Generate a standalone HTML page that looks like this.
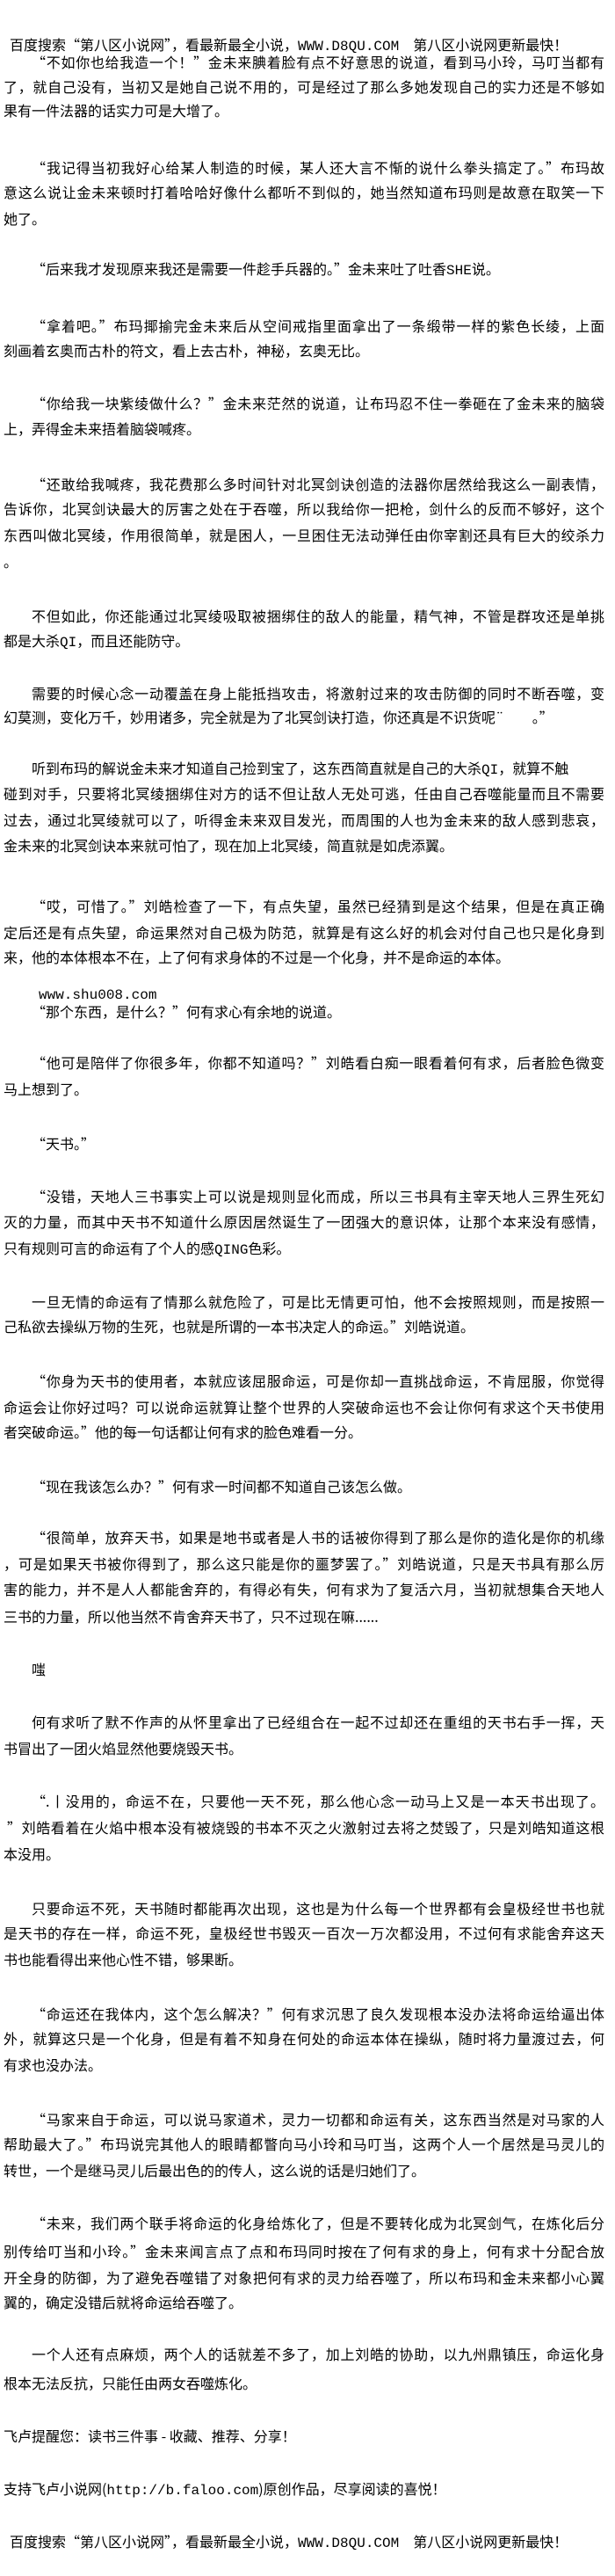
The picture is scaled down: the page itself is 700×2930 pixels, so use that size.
<!DOCTYPE html>
<html><head><meta charset="utf-8">
<style>
html,body{margin:0;padding:0;background:#fff;}
body{width:700px;height:2930px;position:relative;overflow:hidden;
font-family:"Noto Sans CJK SC","WenQuanYi Zen Hei",sans-serif;font-size:16px;color:#000;}
.l{position:absolute;line-height:22px;height:22px;white-space:nowrap;left:4px;}
.i{left:36px;}
.f{right:12px;text-align:justify;text-align-last:justify;white-space:normal;overflow:hidden;}
.m{font-family:"Liberation Mono",monospace;}
</style></head><body>
<div class="l" style="top:39px;left:11px">百度搜索“第八区小说网”，看最新最全小说，<span class="m">WWW.D8QU.COM</span>　第八区小说网更新最快！</div>

<div class="l i f" style="top:59px">“不如你也给我造一个！”金未来腆着脸有点不好意思的说道，看到马小玲，马叮当都有</div>
<div class="l f" style="top:87px">了，就自己没有，当初又是她自己说不用的，可是经过了那么多她发现自己的实力还是不够如</div>
<div class="l" style="top:114px">果有一件法器的话实力可是大增了。</div>

<div class="l i f" style="top:179px">“我记得当初我好心给某人制造的时候，某人还大言不惭的说什么拳头搞定了。”布玛故</div>
<div class="l f" style="top:207px">意这么说让金未来顿时打着哈哈好像什么都听不到似的，她当然知道布玛则是故意在取笑一下</div>
<div class="l" style="top:237px">她了。</div>

<div class="l i" style="top:294px">“后来我才发现原来我还是需要一件趁手兵器的。”金未来吐了吐香<span class="m">SHE</span>说。</div>

<div class="l i f" style="top:359px">“拿着吧。”布玛揶揄完金未来后从空间戒指里面拿出了一条缎带一样的紫色长绫，上面</div>
<div class="l" style="top:387px">刻画着玄奥而古朴的符文，看上去古朴，神秘，玄奥无比。</div>

<div class="l i f" style="top:447px">“你给我一块紫绫做什么？”金未来茫然的说道，让布玛忍不住一拳砸在了金未来的脑袋</div>
<div class="l" style="top:476px">上，弄得金未来捂着脑袋喊疼。</div>

<div class="l i f" style="top:539px">“还敢给我喊疼，我花费那么多时间针对北冥剑诀创造的法器你居然给我这么一副表情，</div>
<div class="l f" style="top:567px">告诉你，北冥剑诀最大的厉害之处在于吞噬，所以我给你一把枪，剑什么的反而不够好，这个</div>
<div class="l f" style="top:597px">东西叫做北冥绫，作用很简单，就是困人，一旦困住无法动弹任由你宰割还具有巨大的绞杀力</div>
<div class="l" style="top:627px">。</div>

<div class="l i f" style="top:689px">不但如此，你还能通过北冥绫吸取被捆绑住的敌人的能量，精气神，不管是群攻还是单挑</div>
<div class="l" style="top:717px">都是大杀<span class="m">QI</span>，而且还能防守。</div>

<div class="l i f" style="top:777px">需要的时候心念一动覆盖在身上能抵挡攻击，将激射过来的攻击防御的同时不断吞噬，变</div>
<div class="l" style="top:804px">幻莫测，变化万千，妙用诸多，完全就是为了北冥剑诀打造，你还真是不识货呢¨　　。”</div>

<div class="l i" style="top:862px">听到布玛的解说金未来才知道自己捡到宝了，这东西简直就是自己的大杀<span class="m">QI</span>，就算不触</div>
<div class="l f" style="top:891px">碰到对手，只要将北冥绫捆绑住对方的话不但让敌人无处可逃，任由自己吞噬能量而且不需要</div>
<div class="l f" style="top:921px">过去，通过北冥绫就可以了，听得金未来双目发光，而周围的人也为金未来的敌人感到悲哀，</div>
<div class="l" style="top:950px">金未来的北冥剑诀本来就可怕了，现在加上北冥绫，简直就是如虎添翼。</div>

<div class="l i f" style="top:1019px">“哎，可惜了。”刘皓检查了一下，有点失望，虽然已经猜到是这个结果，但是在真正确</div>
<div class="l f" style="top:1049px">定后还是有点失望，命运果然对自己极为防范，就算是有这么好的机会对付自己也只是化身到</div>
<div class="l" style="top:1077px">来，他的本体根本不在，上了何有求身体的不过是一个化身，并不是命运的本体。</div>

<div class="l m" style="top:1121px;left:44px">www.shu008.com</div>
<div class="l i" style="top:1139px">“那个东西，是什么？”何有求心有余地的说道。</div>

<div class="l i f" style="top:1197px">“他可是陪伴了你很多年，你都不知道吗？”刘皓看白痴一眼看着何有求，后者脸色微变</div>
<div class="l" style="top:1227px">马上想到了。</div>

<div class="l i" style="top:1289px">“天书。”</div>

<div class="l i f" style="top:1349px">“没错，天地人三书事实上可以说是规则显化而成，所以三书具有主宰天地人三界生死幻</div>
<div class="l f" style="top:1378px">灭的力量，而其中天书不知道什么原因居然诞生了一团强大的意识体，让那个本来没有感情，</div>
<div class="l" style="top:1408px">只有规则可言的命运有了个人的感<span class="m">QING</span>色彩。</div>

<div class="l i f" style="top:1469px">一旦无情的命运有了情那么就危险了，可是比无情更可怕，他不会按照规则，而是按照一</div>
<div class="l" style="top:1497px">己私欲去操纵万物的生死，也就是所谓的一本书决定人的命运。”刘皓说道。</div>

<div class="l i f" style="top:1559px">“你身为天书的使用者，本就应该屈服命运，可是你却一直挑战命运，不肯屈服，你觉得</div>
<div class="l f" style="top:1589px">命运会让你好过吗？可以说命运就算让整个世界的人突破命运也不会让你何有求这个天书使用</div>
<div class="l" style="top:1617px">者突破命运。”他的每一句话都让何有求的脸色难看一分。</div>

<div class="l i" style="top:1679px">“现在我该怎么办？”何有求一时间都不知道自己该怎么做。</div>

<div class="l i f" style="top:1737px">“很简单，放弃天书，如果是地书或者是人书的话被你得到了那么是你的造化是你的机缘</div>
<div class="l f" style="top:1767px">，可是如果天书被你得到了，那么这只能是你的噩梦罢了。”刘皓说道，只是天书具有那么厉</div>
<div class="l f" style="top:1796px">害的能力，并不是人人都能舍弃的，有得必有失，何有求为了复活六月，当初就想集合天地人</div>
<div class="l" style="top:1827px">三书的力量，所以他当然不肯舍弃天书了，只不过现在嘛......</div>

<div class="l i" style="top:1887px">嗤</div>

<div class="l i f" style="top:1947px">何有求听了默不作声的从怀里拿出了已经组合在一起不过却还在重组的天书右手一挥，天</div>
<div class="l" style="top:1977px">书冒出了一团火焰显然他要烧毁天书。</div>

<div class="l i f" style="top:2037px">“.丨没用的，命运不在，只要他一天不死，那么他心念一动马上又是一本天书出现了。</div>
<div class="l f" style="top:2067px;left:8px">”刘皓看着在火焰中根本没有被烧毁的书本不灭之火激射过去将之焚毁了，只是刘皓知道这根</div>
<div class="l" style="top:2097px">本没用。</div>

<div class="l i f" style="top:2159px">只要命运不死，天书随时都能再次出现，这也是为什么每一个世界都有会皇极经世书也就</div>
<div class="l f" style="top:2187px">是天书的存在一样，命运不死，皇极经世书毁灭一百次一万次都没用，不过何有求能舍弃这天</div>
<div class="l" style="top:2217px">书也能看得出来他心性不错，够果断。</div>

<div class="l i f" style="top:2279px">“命运还在我体内，这个怎么解决？”何有求沉思了良久发现根本没办法将命运给逼出体</div>
<div class="l f" style="top:2307px">外，就算这只是一个化身，但是有着不知身在何处的命运本体在操纵，随时将力量渡过去，何</div>
<div class="l" style="top:2337px">有求也没办法。</div>

<div class="l i f" style="top:2399px">“马家来自于命运，可以说马家道术，灵力一切都和命运有关，这东西当然是对马家的人</div>
<div class="l f" style="top:2427px">帮助最大了。”布玛说完其他人的眼睛都瞥向马小玲和马叮当，这两个人一个居然是马灵儿的</div>
<div class="l" style="top:2457px">转世，一个是继马灵儿后最出色的的传人，这么说的话是归她们了。</div>

<div class="l i f" style="top:2517px">“未来，我们两个联手将命运的化身给炼化了，但是不要转化成为北冥剑气，在炼化后分</div>
<div class="l f" style="top:2549px">别传给叮当和小玲。”金未来闻言点了点和布玛同时按在了何有求的身上，何有求十分配合放</div>
<div class="l f" style="top:2579px">开全身的防御，为了避免吞噬错了对象把何有求的灵力给吞噬了，所以布玛和金未来都小心翼</div>
<div class="l" style="top:2607px">翼的，确定没错后就将命运给吞噬了。</div>

<div class="l i f" style="top:2666px">一个人还有点麻烦，两个人的话就差不多了，加上刘皓的协助，以九州鼎镇压，命运化身</div>
<div class="l" style="top:2699px">根本无法反抗，只能任由两女吞噬炼化。</div>

<div class="l" style="top:2759px">飞卢提醒您：读书三件事 - 收藏、推荐、分享！</div>

<div class="l" style="top:2819px">支持飞卢小说网(<span class="m">http://b.faloo.com</span>)原创作品，尽享阅读的喜悦！</div>

<div class="l" style="top:2879px;left:11px">百度搜索“第八区小说网”，看最新最全小说，<span class="m">WWW.D8QU.COM</span>　第八区小说网更新最快！</div>
</body></html>
